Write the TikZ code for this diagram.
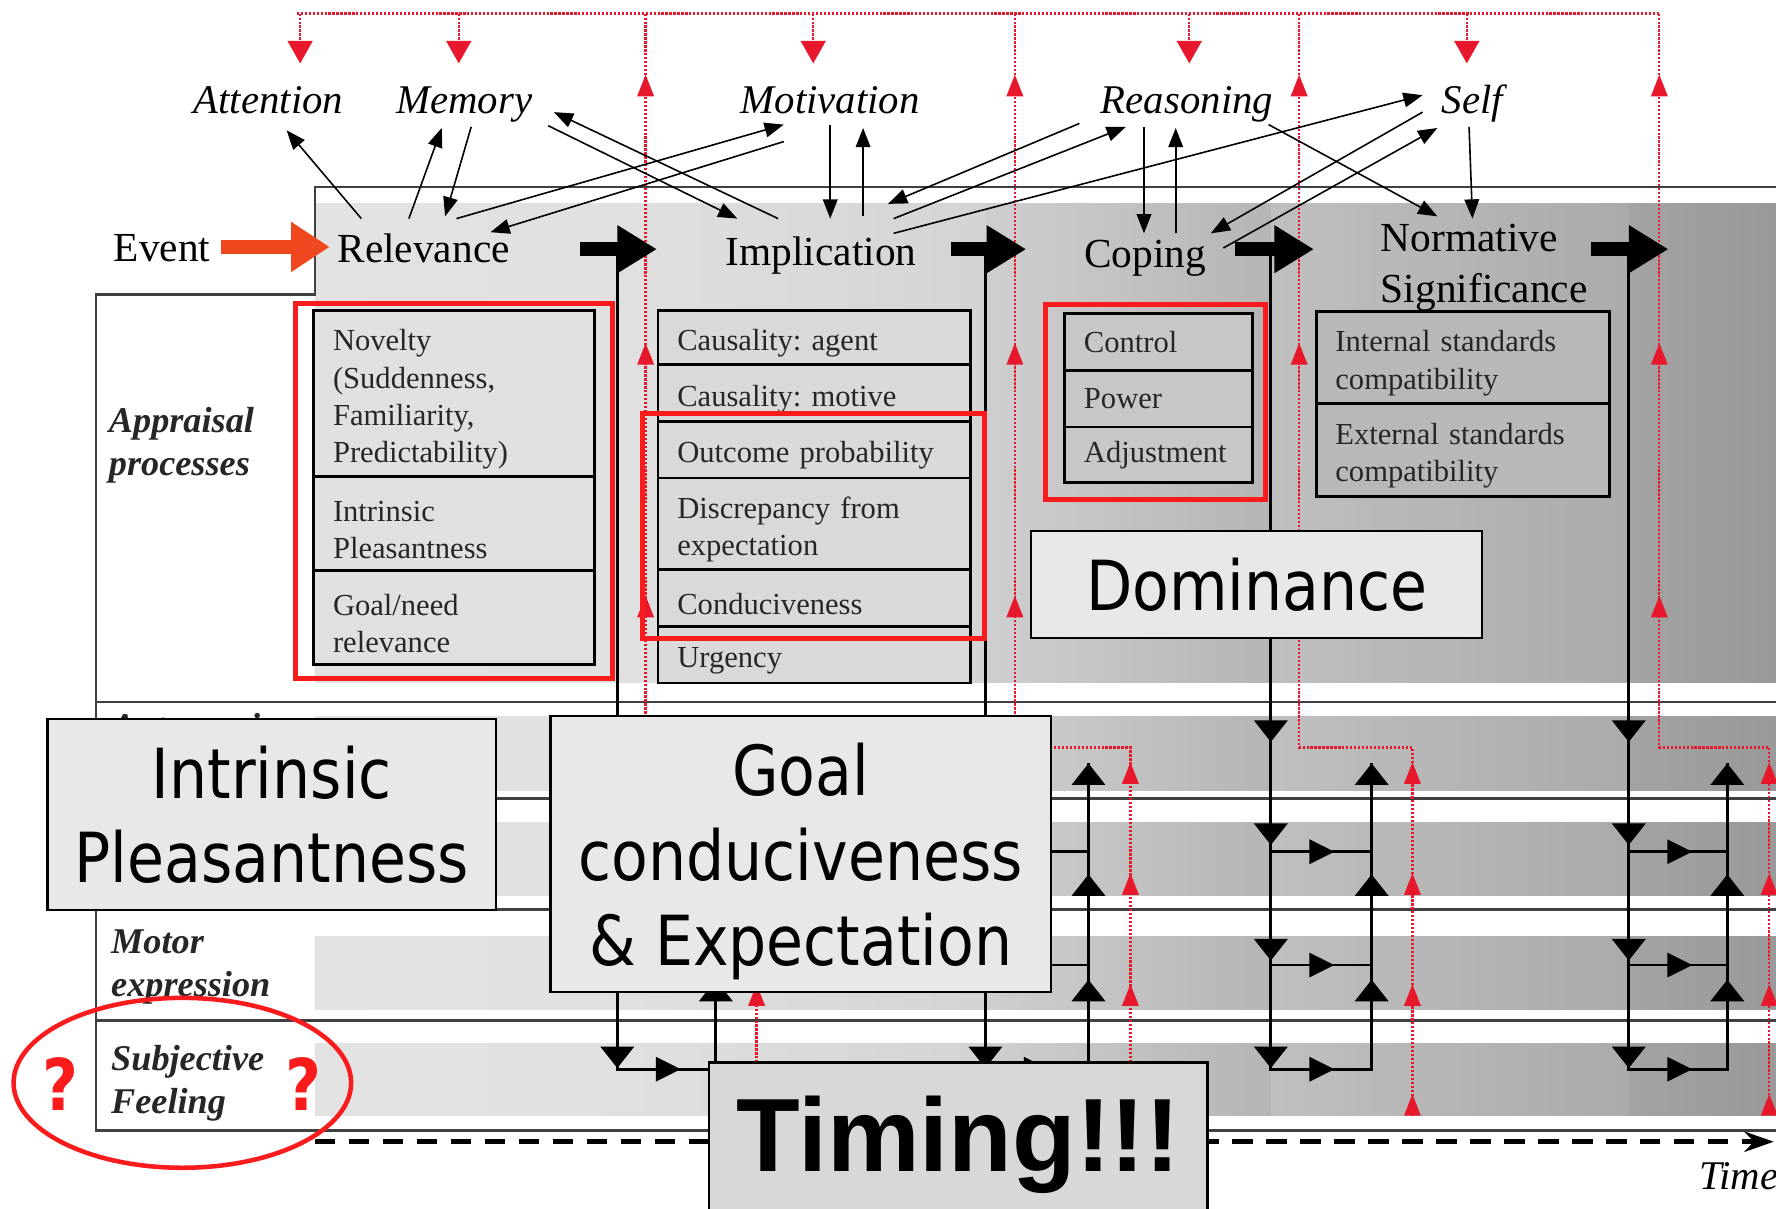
\documentclass[tikz,border=0pt]{standalone}
\usepackage{fontspec}
\setmainfont{Liberation Serif}
\newfontfamily\ovfont[FakeStretch=0.87]{DejaVu Sans}
\newfontfamily\timfont{Liberation Sans}
\usetikzlibrary{arrows.meta, positioning}
\definecolor{hlred}{RGB}{250,28,28}
\definecolor{dotred}{RGB}{232,24,44}
\definecolor{evorange}{RGB}{240,72,30}
\definecolor{ovgray}{RGB}{232,232,232}
\definecolor{timgray}{RGB}{216,216,216}
\newcommand\boxstrut{\rule{0pt}{29pt}}
\tikzset{
  bdown/.pic={\fill (-15,-19) -- (15,-19) -- (0,0) -- cycle;},
  bup/.pic={\fill (-15,19) -- (15,19) -- (0,0) -- cycle;},
  bright/.pic={\fill (-22,-11) -- (-22,11) -- (0,0) -- cycle;},
  rup/.pic={\fill[dotred] (-7.5,19) -- (7.5,19) -- (0,0) -- cycle;}
}
\frenchspacing
\begin{document}
\begin{tikzpicture}[x=1pt, y=-1pt,
  stage/.style={font=\fontsize{36.5}{45}\selectfont, inner sep=0pt, anchor=base},
  proc/.style={font=\fontsize{36}{40}\selectfont\itshape, inner sep=0pt, anchor=base},
  rowlab/.style={font=\fontsize{32}{38}\selectfont\bfseries\itshape, align=left, anchor=west, inner sep=0pt, text=black!85},
  sbox/.style={draw=black, line width=2.5pt, outer sep=0pt, align=left, inner xsep=17pt, inner ysep=0pt, font=\fontsize{27}{33}\selectfont, text=black!85},
  relbox/.style={sbox, fill=black!12, text width=214pt, execute at begin node=\boxstrut},
  impbox/.style={sbox, fill=black!15, text width=242pt, execute at begin node=\boxstrut},
  copbox/.style={sbox, fill=black!22, text width=132pt},
  nrmbox/.style={sbox, fill=black!28, text width=225pt, execute at begin node=\boxstrut},
  ovbox/.style={draw=black, line width=2pt, fill=ovgray, inner sep=0pt, align=center, font=\ovfont\fontsize{61}{74}\selectfont},
  hlbox/.style={draw=hlred, line width=4.5pt},
  tarr/.style={line width=1.4pt, -{Triangle[length=17pt,width=13pt]}},
  stagearr/.style={line width=12pt, -{Triangle[length=35pt,width=40pt]}},
  evarr/.style={color=evorange, line width=12pt, -{Triangle[length=34pt,width=42pt]}},
  gline/.style={line width=2.5pt},
  rdot/.style={draw=dotred, line width=2pt, dash pattern=on 2pt off 1.5pt},
  panelline/.style={draw=black!75, line width=2pt},
  timearr/.style={line width=4pt, dash pattern=on 18pt off 12pt, -{Stealth[length=26pt,width=18pt]}}
]
\useasboundingbox (0,0) rectangle (1568,1067);
\clip (0,0) rectangle (1568,1067);
\fill[white] (0,0) rectangle (1568,1067);

% shaded panel and bands
\foreach \ya/\yb in {180/603, 633/698, 726/791, 827/891, 921/985}{
  \foreach \xa/\xb/\ca/\cb in {278/545/11/12, 545/870/12/17, 870/1122/19/29, 1122/1438/25/33, 1438/1568/36/40}{
    \shade[left color=black!\ca, right color=black!\cb] (\xa,\ya) rectangle (\xb,\yb);
  }
}

% frame and row lines
\draw[panelline] (1568,165) -- (278,165) -- (278,260) -- (85,260) -- (85,998) -- (1568,998);
\foreach \yy in {620,705,803,901}
  \draw[panelline] (85,\yy) -- (1568,\yy);

% red feedback lines
\draw[rdot] (262,12) -- (1465,12);
\foreach \xx in {265,405,718,1050,1295}
  \draw[rdot, -{Triangle[length=20pt,width=22pt]}] (\xx,12) -- (\xx,56);
\foreach \xa/\xb in {570/668, 896/998, 1147/1247, 1465/1562}{
  \draw[rdot] (\xa,12) -- (\xa,660) -- (\xb,660) -- (\xb,985);
  \foreach \yy in {66,303,526} \path (\xa,\yy) pic{rup};
  \foreach \yy in {673,771,869,966} \path (\xb,\yy) pic{rup};
}

% output lines down to the response rows
\foreach \xa/\xb in {545/632, 870/961, 1122/1211, 1438/1525}{
  \draw[gline] (\xa,220) -- (\xa,944) -- (\xb,944) -- (\xb,674);
  \draw[gline] (\xa,752) -- (\xb,752) (\xa,852) -- (\xb,852);
  \foreach \yy in {655,746,848,943} \path (\xa,\yy) pic{bdown};
  \foreach \yy in {752,852,944} \path (\xa+56,\yy) pic{bright};
  \foreach \yy in {674,772,865} \path (\xb,\yy) pic{bup};
}

% appraisal checks
\node[relbox, minimum height=147pt, anchor=north west] (nov) at (277,274) {Novelty\\(Suddenness,\\Familiarity,\\Predictability)};
\node[relbox, minimum height=83pt, below=0pt of nov] (ipl) {Intrinsic\\Pleasantness};
\node[relbox, minimum height=83pt, below=0pt of ipl] (gnr) {Goal/need\\relevance};

\node[impbox, minimum height=48pt, anchor=north west] (cag) at (581,274) {Causality: agent};
\node[impbox, minimum height=50pt, below=0pt of cag] (cmo) {Causality: motive};
\node[impbox, minimum height=50pt, below=0pt of cmo] (opr) {Outcome probability};
\node[impbox, minimum height=81pt, below=0pt of opr] (dis) {Discrepancy from\\expectation};
\node[impbox, minimum height=50pt, below=0pt of dis] (con) {Conduciveness};
\node[impbox, minimum height=50pt, below=0pt of con] (urg) {Urgency};

\node[copbox, minimum height=50pt, anchor=north west] (ctl) at (940,277) {Control};
\node[copbox, minimum height=50pt, below=0pt of ctl] (pow) {Power};
\node[copbox, minimum height=49pt, below=0pt of pow] (adj) {Adjustment};

\node[nrmbox, minimum height=81pt, anchor=north west] (ist) at (1162,275) {Internal standards\\compatibility};
\node[nrmbox, minimum height=82pt, below=0pt of ist] (est) {External standards\\compatibility};

% stage titles and processes
\node[stage] (evt) at (143,231) {Event};
\node[stage] (rel) at (374,232) {Relevance};
\node[stage] (imp) at (725,234) {Implication};
\node[stage] (cop) at (1011,236) {Coping};
\node[stage, anchor=north west, align=left] (nrm) at (1219,198) {Normative\\Significance};

\node[proc] (att) at (237,100) {Attention};
\node[proc] (mem) at (410,100) {Memory};
\node[proc] (mot) at (733,100) {Motivation};
\node[proc] (rea) at (1048,100) {Reasoning};
\node[proc] (slf) at (1300,100) {Self};

\node[rowlab] (app) at (96,393) {Appraisal\\processes};
\node[rowlab, anchor=base west] (aut) at (98,652) {Autonomic};
\node[rowlab] (mtr) at (98,854) {Motor\\expression};
\node[rowlab] (sub) at (98,956) {Subjective\\Feeling};

% sequence arrows
\draw[evarr] ([shift={(52,-13)}]evt.base) -- ++(96,0);
\draw[stagearr] ([shift={(138,-12)}]rel.base) -- ++(68,0);
\draw[stagearr] ([shift={(115,-14)}]imp.base) -- ++(66,0);
\draw[stagearr] ([shift={(79,-16)}]cop.base) -- ++(70,0);
\draw[stagearr] ([shift={(186,22)}]nrm.north west) -- ++(68,0);

% links to cognitive functions
\draw[tarr] ([shift={(-55,-39)}]rel.base) -- ([shift={(16,15)}]att.base);
\draw[tarr] ([shift={(-13,-39)}]rel.base) -- ([shift={(-20,13)}]mem.base);
\draw[tarr] ([shift={(6,12)}]mem.base) -- ([shift={(19,-41)}]rel.base);
\draw[tarr] ([shift={(29,-39)}]rel.base) -- ([shift={(-41,10)}]mot.base);
\draw[tarr] ([shift={(-41,25)}]mot.base) -- ([shift={(59,-27)}]rel.base);
\draw[tarr] ([shift={(-38,-41)}]imp.base) -- ([shift={(79,-1)}]mem.base);
\draw[tarr] ([shift={(74,11)}]mem.base) -- ([shift={(-74,-41)}]imp.base);
\draw[tarr] ([shift={(0,10)}]mot.base) -- ([shift={(8,-41)}]imp.base);
\draw[tarr] ([shift={(37,-43)}]imp.base) -- ([shift={(29,13)}]mot.base);
\draw[tarr] ([shift={(-95,9)}]rea.base) -- ([shift={(59,-54)}]imp.base);
\draw[tarr] ([shift={(64,-41)}]imp.base) -- ([shift={(-54,12)}]rea.base);
\draw[tarr] ([shift={(64,-28)}]imp.base) -- ([shift={(-44,-16)}]slf.base);
\draw[tarr] ([shift={(-38,12)}]rea.base) -- ([shift={(-1,-30)}]cop.base);
\draw[tarr] ([shift={(27,-30)}]cop.base) -- ([shift={(-10,13)}]rea.base);
\draw[tarr] ([shift={(-44,-1)}]slf.base) -- ([shift={(58,-30)}]cop.base);
\draw[tarr] ([shift={(69,-17)}]cop.base) -- ([shift={(-31,13)}]slf.base);
\draw[tarr] ([shift={(72,10)}]rea.base) -- ([shift={(50,-7)}]nrm.north west);
\draw[tarr] ([shift={(-3,12)}]slf.base) -- ([shift={(81,-5)}]nrm.north west);

% time axis
\coordinate (t0) at (278,1008);
\coordinate (t1) at (1566,1008);
\draw[timearr] (t0) -- (t1);
\node[font=\fontsize{36}{40}\selectfont\itshape, anchor=base west, inner sep=0pt] (tim) at (1500,1050) {Time};

% highlights
\draw[hlbox] (261,268) rectangle (541,599);
\draw[hlbox] (567,365) rectangle (869,564);
\draw[hlbox] (923,269) rectangle (1117,441);

\node[ovbox, minimum width=396pt, minimum height=169pt] (ipbox) at (240,719) {Intrinsic\\Pleasantness};
\node[ovbox, minimum width=442pt, minimum height=244pt, text depth=0pt, font=\ovfont\fontsize{61}{75}\selectfont] (goalbox) at (707,754) {Goal\\conduciveness\\\&{} Expectation};
\node[ovbox, minimum width=398pt, minimum height=95pt] (dombox) at (1109.5,516) {Dominance};
\node[ovbox, fill=timgray, minimum width=440pt, minimum height=146pt, font=\timfont\bfseries\fontsize{92}{100}\selectfont] (timbox) at (846,1011) {Timing!!!};

\draw[hlred, line width=4pt] (161,956) ellipse [x radius=149pt, y radius=75pt];
\node[text=hlred, inner sep=0pt, font=\ovfont\bfseries\fontsize{63}{70}\selectfont] (q1) at (53,957) {?};
\node[text=hlred, inner sep=0pt, font=\ovfont\bfseries\fontsize{63}{70}\selectfont] (q2) at (268,957) {?};
\end{tikzpicture}
\end{document}
